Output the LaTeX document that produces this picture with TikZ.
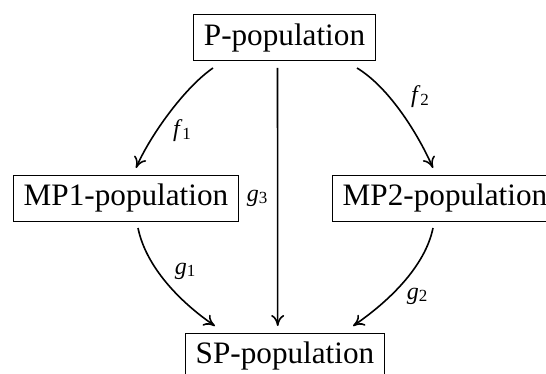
\documentclass[tikz,border=0pt]{standalone}
\usepackage{fontspec}
\setmainfont{Liberation Serif}
\usetikzlibrary{arrows.meta,calc}
\newcommand{\lbl}[2]{{\fontsize{12}{14}\selectfont\textit{#1}\raisebox{-1.3pt}{\fontsize{8.5}{10}\selectfont #2}}}
\begin{document}
\begin{tikzpicture}[x=0.5pt,y=-0.5pt,
  pop/.style={draw, line width=0.5pt, font=\fontsize{15.6}{18}\selectfont,
    inner xsep=5.3pt, inner ysep=0pt, text height=11pt, text depth=3.5pt,
    minimum height=23pt, outer sep=0pt},
  arr/.style={line width=0.8pt, -{To[length=5.5pt,width=6.5pt]}},
  lab/.style={inner sep=0pt}]
\useasboundingbox (0,0) rectangle (546,374);
\clip (0,0) rectangle (546,374);
\node[pop] (P)   at (284.5,38) {P-population};
\node[pop] (MP1) at (126,198)  {MP1-population};
\node[pop] (MP2) at (445,198)  {MP2-population};
\node[pop] (SP)  at (285,356)  {SP-population};
% f1
\draw[arr] ($(P.south)+(-71.5,7)$) .. controls +(-29,20) and +(14,-32) .. ($(MP1.north)+(10,-7)$);
% f2
\draw[arr] ($(P.south)+(72.5,7)$) .. controls +(33,20) and +(-14,-32) .. ($(MP2.north)+(-12,-7)$);
% g3
\draw[arr] ($(P.south)+(-7,7)$) -- ($(SP.north)+(-7.3,-7)$);
% g1
\draw[arr] ($(MP1.south)+(12,7)$) .. controls +(8,39) and +(-35,-24) .. ($(SP.north)+(-70,-7)$);
% g2
\draw[arr] ($(MP2.south)+(-12,7)$) .. controls +(-8,39) and +(35,-24) .. ($(SP.north)+(68,-7)$);
\node[lab] (lf1) at (182,131) {\lbl{f}{1}};
\node[lab] (lf2) at (420,97)  {\lbl{f}{2}};
\node[lab] (lg3) at (257,198) {\lbl{g}{3}};
\node[lab] (lg1) at (185,271) {\lbl{g}{1}};
\node[lab] (lg2) at (417,296) {\lbl{g}{2}};
\end{tikzpicture}
\end{document}
